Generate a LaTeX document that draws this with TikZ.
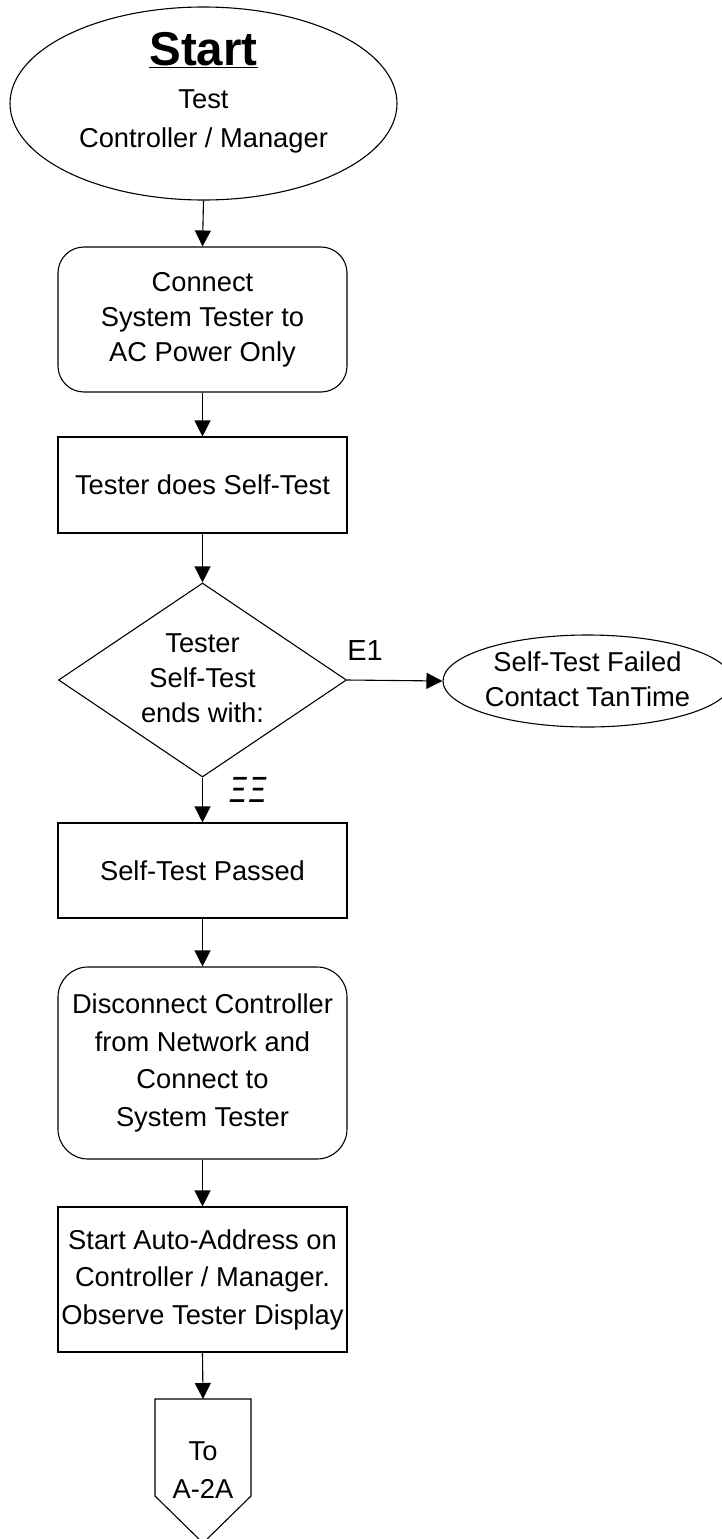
\documentclass[tikz,border=0pt]{standalone}
\usepackage{fontspec}
\usepackage{graphicx}
\setmainfont{Liberation Sans}
\usetikzlibrary{shapes.geometric,arrows.meta}
\begin{document}
\begin{tikzpicture}[x=1pt,y=-1pt,line width=1.1pt,
  txt/.style={font=\fontsize{27.3}{35}\selectfont, align=center},
  txtw/.style={font=\fontsize{27.3}{37.5}\selectfont, align=center},
  box/.style={draw, minimum width=289, inner sep=0},
  arr/.style={-{Triangle[length=16pt,width=16pt]}}]
\useasboundingbox (0,0) rectangle (721,1539);
% start ellipse
\node[draw, ellipse, minimum width=387, minimum height=193, inner sep=0] (start) at (203.5,103.5) {};
\node[anchor=base, font=\fontsize{47.5}{47.5}\selectfont\bfseries, inner sep=0] (starttxt) at (203.5,65) {\underline{Start}};
\node[anchor=base, txt, inner sep=0] (test) at (203.5,108) {Test};
\node[anchor=base, txt, inner sep=0] (ctrl) at (203.5,147) {Controller / Manager};
% boxes
\node[box, txt, rounded corners=26, minimum height=145] (b1) at (202.5,319.5) {Connect\\System Tester to\\AC Power Only};
\node[box, txt, minimum height=96] (b2) at (202.5,485) {Tester does Self-Test};
\node[draw, diamond, minimum width=288, minimum height=194, inner sep=0] (dec) at (202.5,680) {};
\node[txt, inner sep=0] (dectxt) at (202.5,678) {Tester\\Self-Test\\ends with:};
\node[draw, ellipse, minimum width=289, minimum height=92, inner sep=0] (fail) at (587.5,681) {};
\node[txt, inner sep=0] (failtxt) at (587.5,679) {Self-Test Failed\\Contact TanTime};
\node[font=\fontsize{29}{29}\selectfont, inner sep=0] (e1) at (365,651) {E1};
\node[font=\fontsize{27}{27}\selectfont\itshape, inner sep=0] (eqs) at (248,790) {\scalebox{0.95}[1.35]{Ξ\kern3ptΞ}};
\node[box, txt, minimum height=95] (b3) at (202.5,870.5) {Self-Test Passed};
\node[box, txtw, rounded corners=30, minimum height=192] (b4) at (202.5,1063) {Disconnect Controller\\from Network and\\Connect to\\System Tester};
\node[box, txtw, minimum height=145] (b5) at (202.5,1279.5) {Start Auto-Address on\\Controller / Manager.\\Observe Tester Display};
% off-page connector
\coordinate (ptop) at (203,1399);
\draw (155,1399) -- (251,1399) -- (251,1496) -- (203,1543) -- (155,1496) -- cycle;
\node[txtw, inner sep=0] (to) at (203,1470) {To\\A-2A};
% connectors
\draw[arr] (start.south) -- (b1.north);
\draw[arr] (b1.south) -- (b2.north);
\draw[arr] (b2.south) -- (dec.north);
\draw[arr] (dec.east) -- (fail.west);
\draw[arr] (dec.south) -- (b3.north);
\draw[arr] (b3.south) -- (b4.north);
\draw[arr] (b4.south) -- (b5.north);
\draw[arr] (b5.south) -- (ptop);
\end{tikzpicture}
\end{document}
